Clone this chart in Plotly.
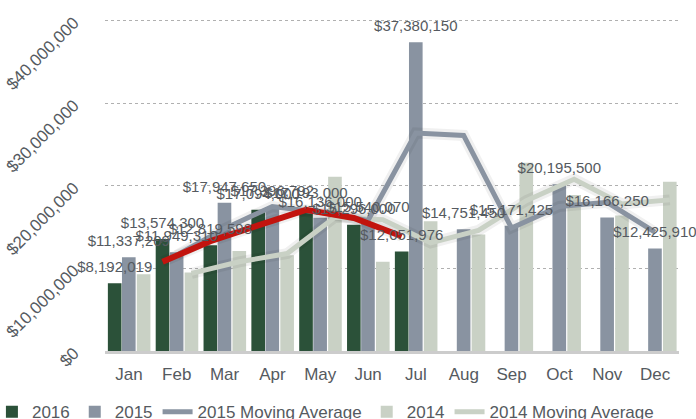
import plotly.graph_objects as go

months = ["Jan", "Feb", "Mar", "Apr", "May", "Jun", "Jul", "Aug", "Sep", "Oct", "Nov", "Dec"]

sales_2016 = [8192019, 13574300, 12819598, 17094000, 17193000, 15296000, 12051976]
sales_2015 = [11337209, 11949310, 17947650, 17396792, 16136000, 15540070, 37380150,
              14751450, 15171425, 20195500, 16166250, 12425910]
sales_2014 = [9300000, 9500000, 12100000, 11600000, 21100000, 10800000, 15700000,
              14100000, 22800000, 18900000, 16400000, 20500000]

# moving averages (Feb onward)
ma_2016 = [10800000, 13300000, 15200000, 17100000, 16100000, 13900000]
ma_2015 = [11600000, 14800000, 17500000, 16800000, 15800000, 26400000, 26100000,
           14900000, 17500000, 18000000, 14400000]
ma_2014 = [9400000, 10800000, 11800000, 16200000, 15900000, 13100000, 14600000,
           18200000, 20800000, 17800000, 18300000]

C2016 = "#2b5139"
C2015 = "#8993a1"
C2014 = "#c9d1c5"
CRED = "#c2140e"
TXT = "#555a60"
FONT = "Liberation Sans, Arial, Helvetica, sans-serif"

BAR_W = 0.285
OFF = {"2016": -0.44, "2015": -0.145, "2014": 0.165}
CEN = {k: v + BAR_W / 2 for k, v in OFF.items()}

idx = list(range(12))

def xs(n, key, start=0):
    return [i + CEN[key] for i in range(start, start + n)]

fig = go.Figure()

fig.add_bar(x=idx[:len(sales_2016)], y=sales_2016, name="2016", width=BAR_W, offset=OFF["2016"],
            marker=dict(color=C2016, line=dict(width=0)), legendrank=1)
fig.add_bar(x=idx, y=sales_2015, name="2015", width=BAR_W, offset=OFF["2015"],
            marker=dict(color=C2015, line=dict(width=0)), legendrank=2)
fig.add_bar(x=idx, y=sales_2014, name="2014", width=BAR_W, offset=OFF["2014"],
            marker=dict(color=C2014, line=dict(width=0)), legendrank=4)

# soft shadows under lines
for vals, key in [(ma_2014, "2014"), (ma_2015, "2015"), (ma_2016, "2016")]:
    fig.add_scatter(x=xs(len(vals), key, 1), y=vals, mode="lines", showlegend=False,
                    hoverinfo="skip", line=dict(color="rgba(0,0,0,0.06)", width=11))

fig.add_scatter(x=xs(len(ma_2014), "2014", 1), y=ma_2014, mode="lines", name="2014 Moving Average",
                line=dict(color=C2014, width=5), legendrank=5)
fig.add_scatter(x=xs(len(ma_2015), "2015", 1), y=ma_2015, mode="lines", name="2015 Moving Average",
                line=dict(color=C2015, width=5), legendrank=3)
fig.add_scatter(x=xs(len(ma_2016), "2016", 1), y=ma_2016, mode="lines", name="2016 Moving Average",
                line=dict(color=CRED, width=6), showlegend=False)

# data labels (invisible markers push the text a little above the bar tops)
for vals, key in [(sales_2016, "2016"), (sales_2015, "2015")]:
    fig.add_scatter(x=xs(len(vals), key), y=vals, mode="markers+text", showlegend=False,
                    marker=dict(size=10, opacity=0),
                    text=["${:,}".format(v) for v in vals], textposition="top center",
                    textfont=dict(family=FONT, size=15, color=TXT), cliponaxis=False,
                    hoverinfo="skip")

fig.update_layout(
    width=696, height=419,
    margin=dict(l=105, r=17, t=19, b=68, autoexpand=False),
    paper_bgcolor="white", plot_bgcolor="white",
    barmode="overlay",
    font=dict(family=FONT, color=TXT, size=16),
    legend=dict(orientation="h", x=-0.197, xanchor="left", y=-0.13, yanchor="top",
                font=dict(size=17, color=TXT), itemwidth=30, traceorder="normal"),
    showlegend=True,
)
fig.update_xaxes(range=[-0.5, 11.5], tickvals=idx, ticktext=months, showgrid=False,
                 showline=True, linecolor="#cccccc", linewidth=3, zeroline=False,
                 tickfont=dict(size=17, color=TXT), ticks="", ticklabelstandoff=6)
fig.update_yaxes(range=[0, 40200000], dtick=10000000, tickformat="$,.0f", tickangle=-45,
                 showgrid=True, gridcolor="#b0b0b0", gridwidth=1, griddash="3px,3px",
                 zeroline=False, showline=False, tickfont=dict(size=17, color=TXT),
                 ticklabelstandoff=30)

fig.write_html("out.html", config={"displayModeBar": False},
               post_script="document.body.style.margin='0';")
